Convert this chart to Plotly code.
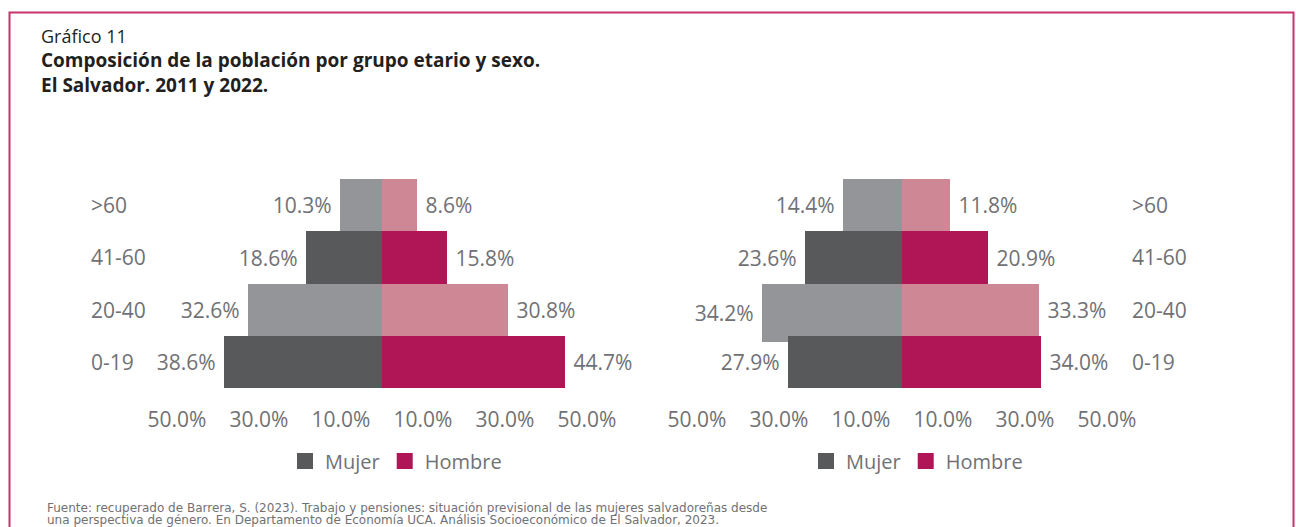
import plotly.graph_objects as go

# ---------------- data ----------------
age_groups = [">60", "41-60", "20-40", "0-19"]
mujer_2011 = [10.3, 18.6, 32.6, 38.6]
hombre_2011 = [8.6, 15.8, 30.8, 44.7]
mujer_2022 = [14.4, 23.6, 34.2, 27.9]
hombre_2022 = [11.8, 20.9, 33.3, 34.0]
tick_values = [-50, -30, -10, 10, 30, 50]
tick_labels = ["50.0%", "30.0%", "10.0%", "10.0%", "30.0%", "50.0%"]
series_names = ["Mujer", "Hombre"]

# ---------------- styles ----------------
W, H = 1296, 527
GRAY_TXT = "#707175"
DARK_TXT = "#231f20"
MUJER_COLORS = ["#939598", "#58595b", "#939598", "#58595b"]
HOMBRE_COLORS = ["#cd8795", "#b01655", "#cd8795", "#b01655"]
LEGEND_COLORS = ["#58595b", "#b01655"]
FONT = "Open Sans"
FS = 21
NBSP = "\u00a0"


def px_x(p):
    return p / W


def px_y(p):
    return 1 - p / H


fig = go.Figure()


def add_pyramid(mujer, hombre, xa, ya, mujer_width=None):
    fig.add_trace(go.Bar(
        y=age_groups, x=[-v for v in mujer], orientation="h",
        marker=dict(color=MUJER_COLORS, line=dict(width=0)),
        text=[f"{v:.1f}%{NBSP}" for v in mujer], textposition="outside",
        textfont=dict(size=FS, color=GRAY_TXT, family=FONT),
        constraintext="none", cliponaxis=False, showlegend=False,
        hoverinfo="skip", xaxis=xa, yaxis=ya,
        width=mujer_width, offset=-0.5,
    ))
    fig.add_trace(go.Bar(
        y=age_groups, x=hombre, orientation="h",
        marker=dict(color=HOMBRE_COLORS, line=dict(width=0)),
        text=[f"{NBSP}{v:.1f}%" for v in hombre], textposition="outside",
        textfont=dict(size=FS, color=GRAY_TXT, family=FONT),
        constraintext="none", cliponaxis=False, showlegend=False,
        hoverinfo="skip", xaxis=xa, yaxis=ya, offset=-0.5, width=1,
    ))


add_pyramid(mujer_2011, hombre_2011, "x", "y", mujer_width=[1, 1, 1, 1])
add_pyramid(mujer_2022, hombre_2022, "x2", "y2", mujer_width=[1, 1, 1.11, 1])

# legend entries
for leg, xa, ya in [("legend", "x", "y"), ("legend2", "x2", "y2")]:
    for name, col in zip(series_names, LEGEND_COLORS):
        fig.add_trace(go.Scatter(
            x=[None], y=[None], mode="markers", name=name,
            marker=dict(symbol="square", size=16, color=col, line=dict(width=0)),
            legend=leg, xaxis=xa, yaxis=ya, hoverinfo="skip",
        ))

y_dom = [px_y(388), px_y(179)]
axis_common = dict(
    range=[-60, 60], tickvals=tick_values, ticktext=tick_labels,
    showgrid=False, zeroline=False, showline=False, ticks="",
    tickfont=dict(size=FS, color=GRAY_TXT, family=FONT),
    ticklabelstandoff=17, fixedrange=True,
)
yaxis_common = dict(
    range=[3.5, -0.5], showticklabels=False, showgrid=False,
    zeroline=False, showline=False, ticks="", fixedrange=True,
    type="category", domain=y_dom,
)

legend_common = dict(
    orientation="h", xanchor="center", yanchor="middle",
    font=dict(size=20, color=GRAY_TXT, family=FONT),
    bgcolor="rgba(0,0,0,0)", itemclick=False, itemdoubleclick=False,
    tracegroupgap=0,
)

annotations = []
for g in age_groups:
    annotations.append(dict(xref="paper", yref="y", x=px_x(89), y=g, text=g,
                            xanchor="left", yanchor="middle", showarrow=False,
                            font=dict(size=FS, color=GRAY_TXT, family=FONT)))
    annotations.append(dict(xref="paper", yref="y2", x=px_x(1130), y=g, text=g,
                            xanchor="left", yanchor="middle", showarrow=False,
                            font=dict(size=FS, color=GRAY_TXT, family=FONT)))

annotations += [
    dict(xref="paper", yref="paper", x=px_x(39), y=px_y(36), text="Gráfico 11",
         xanchor="left", yanchor="middle", showarrow=False,
         font=dict(size=18, color=DARK_TXT, family=FONT)),
    dict(xref="paper", yref="paper", x=px_x(39), y=px_y(60),
         text="<b>Composición de la población por grupo etario y sexo.</b>",
         xanchor="left", yanchor="middle", showarrow=False,
         font=dict(size=19, color=DARK_TXT, family=FONT)),
    dict(xref="paper", yref="paper", x=px_x(39), y=px_y(85),
         text="<b>El Salvador. 2011 y 2022.</b>",
         xanchor="left", yanchor="middle", showarrow=False,
         font=dict(size=19, color=DARK_TXT, family=FONT)),
    dict(xref="paper", yref="paper", x=px_x(45), y=px_y(508),
         text="Fuente: recuperado de Barrera, S. (2023). Trabajo y pensiones: situación previsional de las mujeres salvadoreñas desde",
         xanchor="left", yanchor="middle", showarrow=False,
         font=dict(size=12, color=GRAY_TXT, family="DejaVu Sans")),
    dict(xref="paper", yref="paper", x=px_x(45), y=px_y(520),
         text="una perspectiva de género. En Departamento de Economía UCA. Análisis Socioeconómico de El Salvador, 2023.",
         xanchor="left", yanchor="middle", showarrow=False,
         font=dict(size=12, color=GRAY_TXT, family="DejaVu Sans")),
]

fig.update_layout(
    width=W, height=H,
    margin=dict(l=0, r=0, t=0, b=0),
    paper_bgcolor="white", plot_bgcolor="white",
    barmode="overlay", bargap=0,
    font=dict(family=FONT, color=GRAY_TXT),
    xaxis=dict(domain=[px_x(136), px_x(628)], anchor="y", **axis_common),
    yaxis=dict(anchor="x", **yaxis_common),
    xaxis2=dict(domain=[px_x(656), px_x(1148)], anchor="y2", **axis_common),
    yaxis2=dict(anchor="x2", **yaxis_common),
    legend=dict(x=px_x(396), y=px_y(461), **legend_common),
    legend2=dict(x=px_x(917), y=px_y(461), **legend_common),
    annotations=annotations,
    shapes=[dict(type="rect", xref="paper", yref="paper",
                 x0=px_x(9.5), x1=px_x(1293.5), y0=-0.2, y1=px_y(12.5),
                 line=dict(color="#c8336e", width=2), layer="above")],
    showlegend=True,
)

fig.write_html("out.html")
